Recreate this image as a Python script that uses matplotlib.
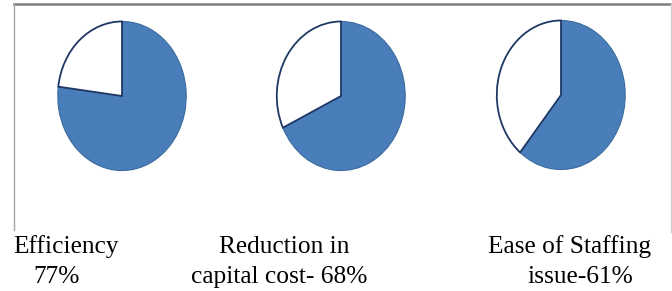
import matplotlib.pyplot as plt
from matplotlib.lines import Line2D

# values
labels_top = ["Efficiency", "Reduction in", "Ease of Staffing"]
labels_bottom = ["77%", "capital cost- 68%", "issue-61%"]
shares = [77, 68, 61]

blue = "#4a7ebb"
W, H = 672, 291

fig = plt.figure(figsize=(W / 100, H / 100), dpi=100)

# pie centres in pixels (x, y from top) and ellipse size
centres = [(122, 96), (341, 96), (561, 95)]
pw, ph = 131, 152

for (cx, cy), val in zip(centres, shares):
    ax = fig.add_axes([(cx - pw / 2) / W, (H - cy - ph / 2) / H, pw / W, ph / H])
    wedges, _ = ax.pie([val, 100 - val], colors=[blue, "white"], startangle=90,
                       counterclock=False, radius=1)
    wedges[0].set_edgecolor("#3a6a9e")
    wedges[0].set_linewidth(0.8)
    wedges[1].set_edgecolor("#1f3864")
    wedges[1].set_linewidth(1.3)
    ax.set_aspect("auto")
    ax.set_xlim(-1.02, 1.02)
    ax.set_ylim(-1.02, 1.02)
    ax.axis("off")

# frame around the chart area (top, left, right)
def px(x, y):
    return x / W, 1 - y / H

x0, y0 = px(14, 4)
x1, y1 = px(671, 232)
fig.add_artist(Line2D([x0, 1.0], [y0, y0], color="#7f7f7f", lw=1.8))
fig.add_artist(Line2D([x0, x0], [y0, px(0, 230)[1]], color="#a6a6a6", lw=1.0))
fig.add_artist(Line2D([x1, x1], [y0, y1], color="#d0d0d0", lw=1.0))

text_kw = dict(family="Liberation Serif", fontsize=18.3, color="black",
               va="center", ha="left")
top_x = [13, 219, 488]
bot_x = [33, 191, 527]
for t, b, xa, xb in zip(labels_top, labels_bottom, top_x, bot_x):
    fig.text(xa / W, 1 - 247 / H, t, **text_kw)
    fig.text(xb / W, 1 - 277 / H, b, **text_kw)

fig.savefig("out.png", dpi=100)
